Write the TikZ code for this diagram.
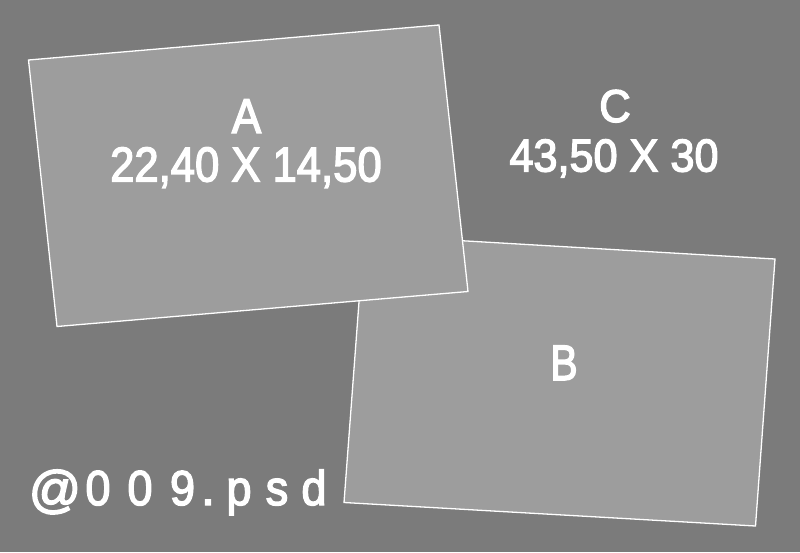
\documentclass[tikz,border=0pt]{standalone}
\usepackage{fontspec}
\setmainfont{Liberation Sans}
\newfontfamily\lbfont[FakeBold=3]{Liberation Sans}
\definecolor{bggray}{RGB}{123,123,123}
\definecolor{boxgray}{RGB}{157,157,157}
\begin{document}
\begin{tikzpicture}[x=1pt,y=-1pt,
  sheet/.style={fill=boxgray,draw=white,line width=1.3pt,line join=miter},
  lbl/.style={text=white,inner sep=0pt,anchor=base},
  big/.style={lbl,font=\lbfont\fontsize{49}{49}\selectfont},
  mid/.style={lbl,font=\lbfont\fontsize{46}{46}\selectfont},
  foot/.style={lbl,font=\lbfont\fontsize{49}{49}\selectfont}]
\fill[bggray] (0,0) rectangle (800,552);
\useasboundingbox (0,0) rectangle (800,552);
% sheet B (below)
\coordinate (b1) at (364,235);
\coordinate (b2) at (775,259);
\coordinate (b3) at (755.5,526);
\coordinate (b4) at (344,502.5);
\draw[sheet] (b1) -- (b2) -- (b3) -- (b4) -- cycle;
% sheet A (on top)
\coordinate (a1) at (28.5,60);
\coordinate (a2) at (439,25);
\coordinate (a3) at (468,291.5);
\coordinate (a4) at (57,326.5);
\draw[sheet] (a1) -- (a2) -- (a3) -- (a4) -- cycle;
% labels
\node[big] (la) at (246.5,133) {\scalebox{0.9}[1]{A}};
\node[big] (lad) at (246,181.5) {\scalebox{0.89}[1]{22,40 X 14,50}};
\node[mid] (lc) at (615,122) {\scalebox{0.95}[1]{C}};
\node[mid] (lcd) at (614,171.5) {\scalebox{0.94}[1]{43,50 X 30}};
\node[lbl,font=\lbfont\fontsize{50}{50}\selectfont] (lb) at (564,380) {\scalebox{0.82}[1]{B}};
% footer
\node[foot] (f1) at (55,507) {\scalebox{1.05}{@}};
\node[foot] (f2) at (98,505) {\scalebox{0.92}[1]{0}};
\node[foot] (f3) at (140,505) {\scalebox{0.92}[1]{0}};
\node[foot] (f4) at (182.5,505) {\scalebox{0.92}[1]{9}};
\node[foot] (f5) at (208,505) {.};
\node[foot] (f6) at (239,505) {\scalebox{0.92}[1]{p}};
\node[foot] (f7) at (277,505) {\scalebox{0.92}[1]{s}};
\node[foot] (f8) at (314,505) {\scalebox{0.92}[1]{d}};
\end{tikzpicture}
\end{document}
